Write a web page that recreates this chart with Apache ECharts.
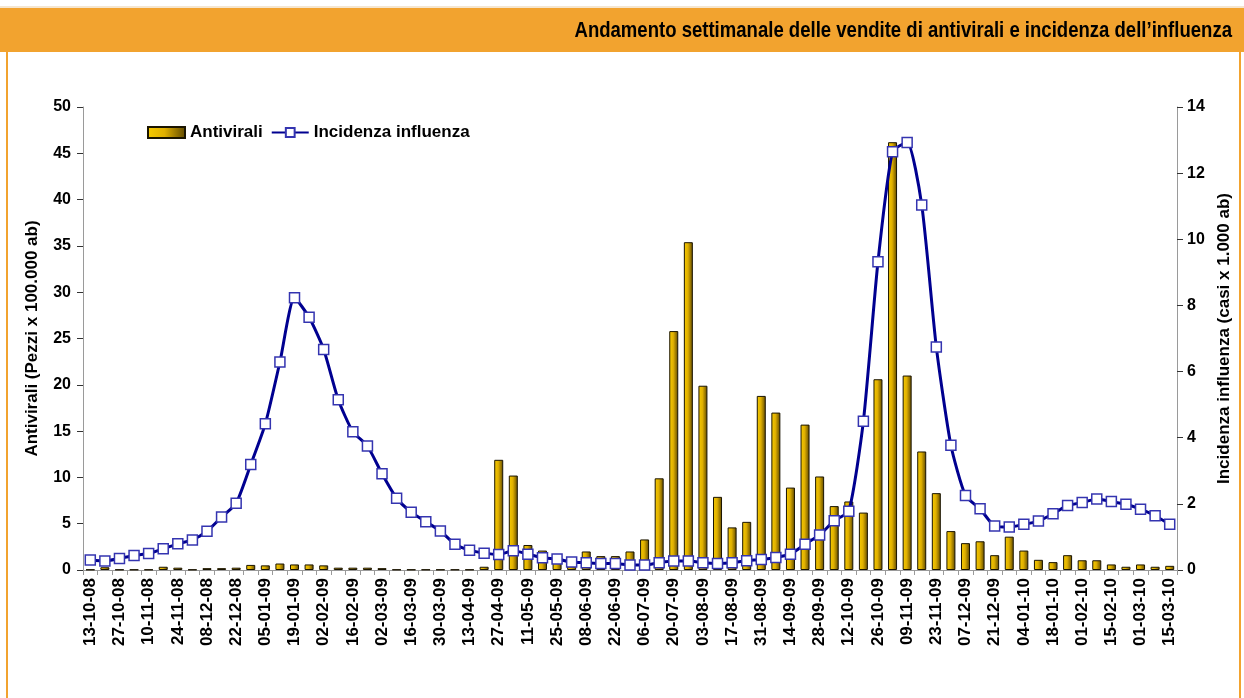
<!DOCTYPE html>
<html>
<head>
<meta charset="utf-8">
<script src="https://cdn.jsdelivr.net/npm/echarts@6/dist/echarts.min.js"></script>
<style>
html,body{margin:0;padding:0;background:#fff;}
#chart{width:1244px;height:698px;}
</style>
</head>
<body>
<div id="chart"></div>
<script>
var titleText = "Andamento settimanale delle vendite di antivirali e incidenza dell\u2019influenza";
var categories = [
"13-10-08","20-10-08","27-10-08","03-11-08","10-11-08","17-11-08","24-11-08","01-12-08","08-12-08","15-12-08","22-12-08","29-12-08",
"05-01-09","12-01-09","19-01-09","26-01-09","02-02-09","09-02-09","16-02-09","23-02-09","02-03-09","09-03-09","16-03-09","23-03-09",
"30-03-09","06-04-09","13-04-09","20-04-09","27-04-09","04-05-09","11-05-09","18-05-09","25-05-09","01-06-09","08-06-09","15-06-09",
"22-06-09","29-06-09","06-07-09","13-07-09","20-07-09","27-07-09","03-08-09","10-08-09","17-08-09","24-08-09","31-08-09","07-09-09",
"14-09-09","21-09-09","28-09-09","05-10-09","12-10-09","19-10-09","26-10-09","02-11-09","09-11-09","16-11-09","23-11-09","30-11-09",
"07-12-09","14-12-09","21-12-09","28-12-09","04-01-10","11-01-10","18-01-10","25-01-10","01-02-10","08-02-10","15-02-10","22-02-10",
"01-03-10","08-03-10","15-03-10"
];
var antivirali = [
0.05,0.3,0.05,0.05,0.05,0.35,0.25,0.05,0.2,0.2,0.25,0.55,
0.5,0.7,0.6,0.6,0.5,0.25,0.25,0.25,0.2,0.05,0.05,0.05,
0.05,0.05,0.05,0.35,11.9,10.2,2.7,2.1,1.2,0.4,2.0,1.5,
1.5,2.0,3.3,9.9,25.8,35.4,19.9,7.9,4.6,5.2,18.8,17.0,
8.9,15.7,10.1,6.9,7.4,6.2,20.6,46.2,21.0,12.8,8.3,4.2,
2.9,3.1,1.6,3.6,2.1,1.1,0.85,1.6,1.05,1.05,0.6,0.35,
0.6,0.35,0.45
];
var incidenza = [
0.30,0.27,0.35,0.44,0.50,0.64,0.79,0.91,1.17,1.60,2.02,3.19,
4.42,6.29,8.23,7.64,6.67,5.15,4.18,3.75,2.91,2.17,1.75,1.46,
1.18,0.78,0.60,0.51,0.47,0.58,0.48,0.37,0.33,0.24,0.22,0.20,
0.20,0.15,0.15,0.22,0.27,0.27,0.22,0.20,0.22,0.28,0.32,0.38,
0.48,0.78,1.06,1.49,1.78,4.50,9.32,12.65,12.93,11.04,6.74,3.77,
2.25,1.85,1.33,1.30,1.38,1.48,1.70,1.95,2.04,2.15,2.07,1.99,
1.84,1.64,1.38
];
var seriesNames = ["Antivirali", "Incidenza influenza"];
var leftAxisName = "Antivirali (Pezzi x 100.000 ab)";
var rightAxisName = "Incidenza influenza (casi x 1.000 ab)";

var chart = echarts.init(document.getElementById('chart'), null, {renderer:'canvas'});
var barGrad = new echarts.graphic.LinearGradient(0,0,1,0,[
  {offset:0,color:'#f7cc00'},
  {offset:0.45,color:'#e0b000'},
  {offset:1,color:'#5c4600'}
]);
var option = {
  backgroundColor:'#ffffff',
  animation:false,
  textStyle:{fontFamily:'"Liberation Sans", Arial, sans-serif'},
  graphic:[
    {type:'rect', shape:{x:0,y:8,width:1244,height:44}, style:{fill:'#f2a32f'}, z:0},
    {type:'rect', shape:{x:0,y:6,width:1244,height:2}, style:{fill:'#f5e6d0'}, z:0},
    {type:'rect', shape:{x:6,y:52,width:2,height:646}, style:{fill:'#f2a32f'}, z:0},
    {type:'rect', shape:{x:1239,y:52,width:2,height:646}, style:{fill:'#f2a32f'}, z:0},
    {type:'text', x:1232, y:31, scaleX:0.843,
     style:{text:titleText, fill:'#000', textAlign:'right', textVerticalAlign:'middle',
            font:'bold 22px "Liberation Sans", Arial, sans-serif'}, z:5}
  ],
  legend:{
    left:147, top:124, padding:0,
    itemWidth:37, itemHeight:11, itemGap:8,
    textStyle:{fontSize:17, fontWeight:'bold', color:'#000'},
    data:[
      {name:seriesNames[0], icon:'rect'},
      {name:seriesNames[1]}
    ]
  },
  grid:{left:83, right:67, top:107, bottom:128, containLabel:false},
  xAxis:{
    type:'category',
    data:categories,
    boundaryGap:true,
    axisLine:{lineStyle:{color:'#9a9a9a',width:1}},
    axisTick:{show:true, interval:0, length:5, lineStyle:{color:'#9a9a9a'}},
    axisLabel:{interval:1, rotate:90, margin:8, fontSize:17, fontWeight:'bold', color:'#000'}
  },
  yAxis:[
    {
      type:'value', min:0, max:50, interval:5, position:'left',
      name:leftAxisName, nameLocation:'middle', nameRotate:90, nameGap:42,
      nameTextStyle:{fontSize:17, fontWeight:'bold', color:'#000'},
      axisLine:{show:true, lineStyle:{color:'#9a9a9a'}},
      axisTick:{show:true, length:6, lineStyle:{color:'#333'}},
      axisLabel:{fontSize:16, fontWeight:'bold', color:'#000', margin:12},
      splitLine:{show:false}
    },
    {
      type:'value', min:0, max:14, interval:2, position:'right',
      name:rightAxisName, nameLocation:'middle', nameRotate:90, nameGap:39,
      nameTextStyle:{fontSize:17, fontWeight:'bold', color:'#000'},
      axisLine:{show:true, lineStyle:{color:'#9a9a9a'}},
      axisTick:{show:true, length:6, lineStyle:{color:'#333'}},
      axisLabel:{fontSize:16, fontWeight:'bold', color:'#000', margin:10},
      splitLine:{show:false}
    }
  ],
  series:[
    {
      name:seriesNames[0], type:'bar', yAxisIndex:0,
      data:antivirali, barWidth:9,
      itemStyle:{color:barGrad, borderColor:'#1a1400', borderWidth:1},
      z:2
    },
    {
      name:seriesNames[1], type:'line', yAxisIndex:1,
      data:incidenza, smooth:0.2, showAllSymbol:true,
      symbol:'rect', symbolSize:10,
      lineStyle:{color:'#000090', width:3},
      itemStyle:{color:'#ffffff', borderColor:'#3434b0', borderWidth:1.5},
      z:3
    }
  ]
};
chart.setOption(option);
</script>
</body>
</html>
